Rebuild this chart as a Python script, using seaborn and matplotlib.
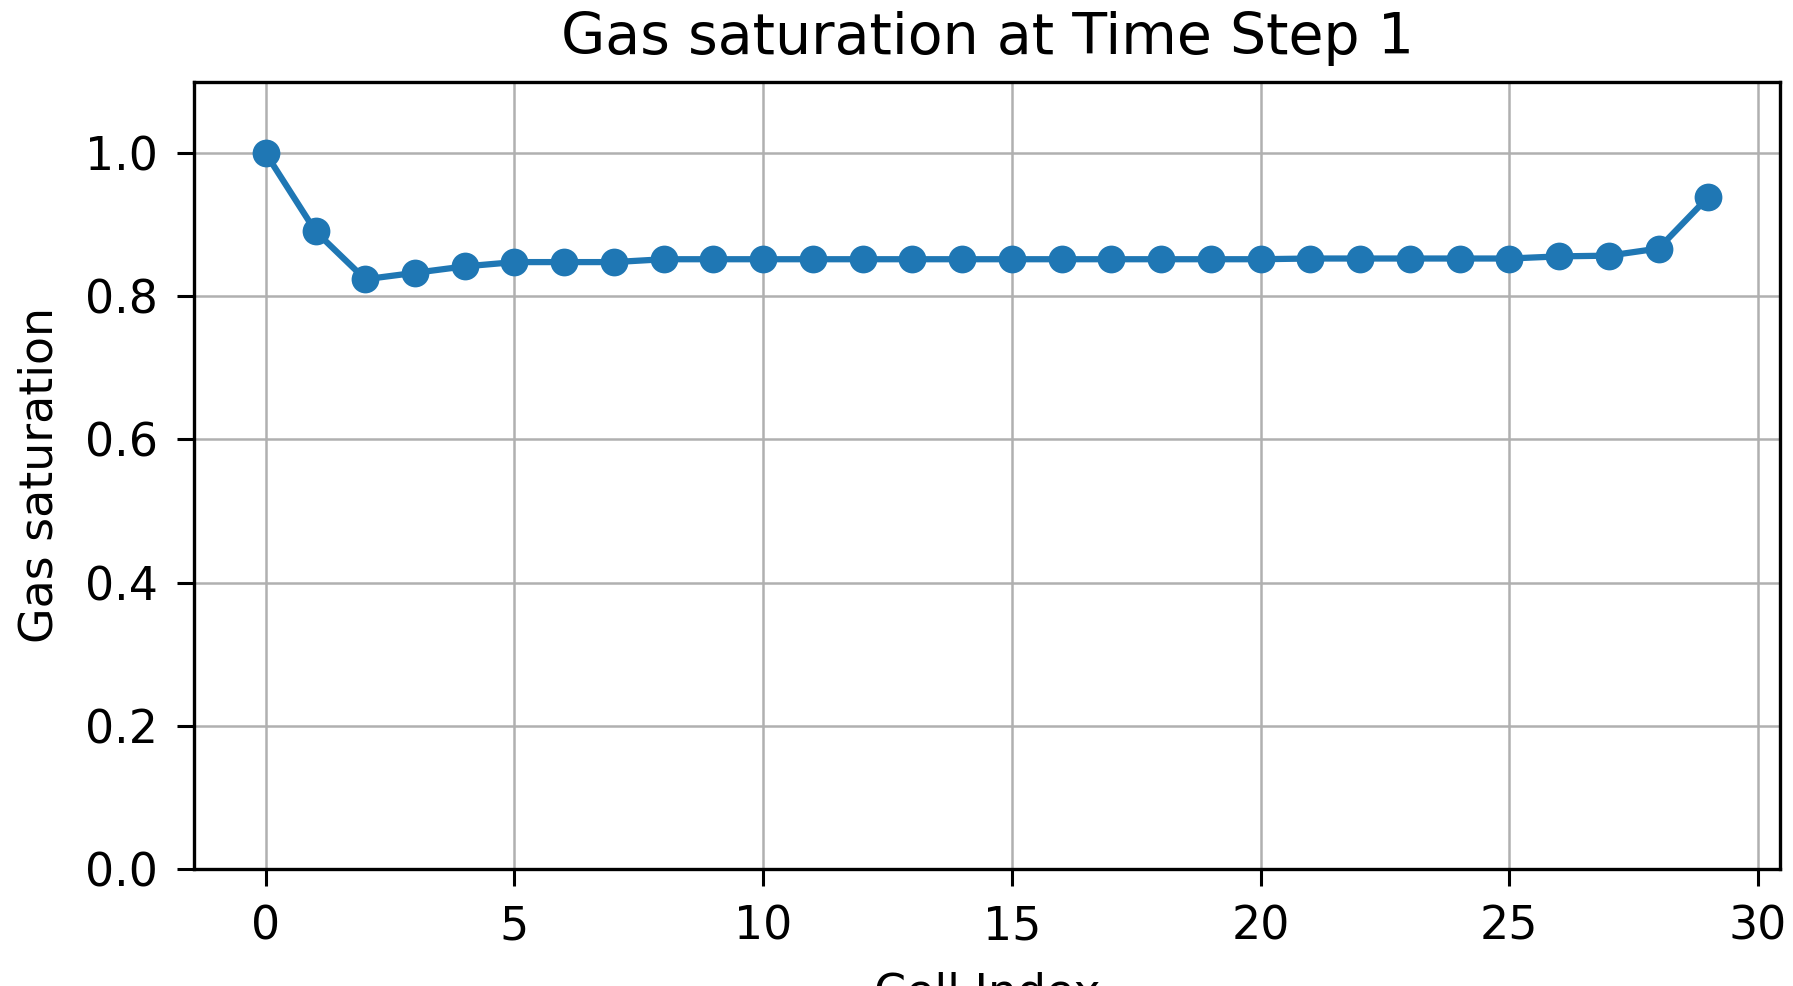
import numpy as np
import pandas as pd
import matplotlib
matplotlib.use("Agg")
import matplotlib.pyplot as plt
import seaborn as sns

# values
cell_index = list(range(30))
gas_saturation = [1.000, 0.891, 0.824, 0.833, 0.842, 0.848, 0.848, 0.848, 0.852, 0.852,
                  0.852, 0.852, 0.852, 0.852, 0.852, 0.852, 0.852, 0.852, 0.852, 0.852,
                  0.852, 0.853, 0.853, 0.853, 0.853, 0.853, 0.856, 0.857, 0.867, 0.939]
title = "Gas saturation at Time Step 1"

df = pd.DataFrame({"cell": cell_index, "sat": gas_saturation})

sns.set_style("ticks")
plt.rcParams["font.family"] = ["DejaVu Sans"]
plt.rcParams["text.color"] = "black"
plt.rcParams["axes.labelcolor"] = "black"
plt.rcParams["xtick.color"] = "black"
plt.rcParams["ytick.color"] = "black"

fig = plt.figure(figsize=(17.93, 9.86), dpi=100)
ax = fig.add_axes([0.108, 0.119, 0.885, 0.798])

sns.lineplot(data=df, x="cell", y="sat", ax=ax, color="#1f77b4",
             marker="o", markersize=20, markeredgewidth=0, linewidth=4.5)

ax.set_ylim(0, 1.1)
ax.set_xlim(-1.45, 30.45)
ax.set_xticks([0, 5, 10, 15, 20, 25, 30])
ax.set_yticks([0.0, 0.2, 0.4, 0.6, 0.8, 1.0])
ax.grid(True, color="#b0b0b0", linewidth=1.8)
ax.set_axisbelow(True)
for s in ax.spines.values():
    s.set_linewidth(2.4)
    s.set_color("black")
ax.tick_params(axis="both", labelsize=33, width=2.2, length=12, pad=14)

ax.set_title(title, fontsize=41, pad=20)
ax.set_xlabel("Cell Index", fontsize=33, labelpad=16)
ax.set_ylabel("Gas saturation", fontsize=33, labelpad=16)

fig.savefig("out.png", dpi=100)
